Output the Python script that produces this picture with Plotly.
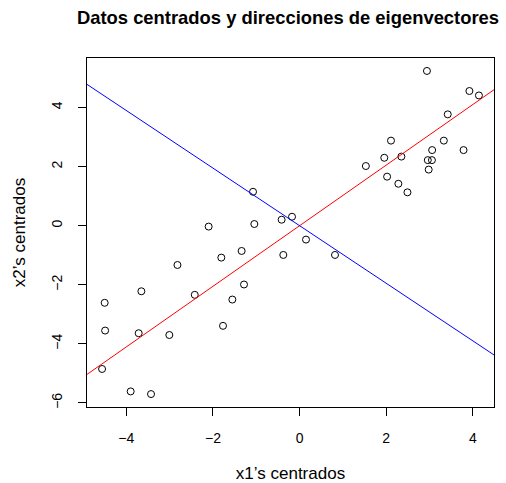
import plotly.graph_objects as go

x1_centered = [-1.075, -2.10, -1.045, -0.415, -0.175,
               2.94, 3.92, 4.14, 3.42, 2.11, 3.33, 3.06, 3.785, 1.955, 2.35,
               2.96, 3.055, 2.98, 1.53, 2.02, 2.28, 2.49, 0.148,
               -0.376, 0.817,
               -1.338, -1.807, -2.82, -3.653, -4.50, -2.42, -1.283, -1.553,
               -1.768, -4.49, -3.715, -3.007, -4.56, -3.90, -3.43]
x2_centered = [1.149, -0.03, 0.057, 0.203, 0.304,
               5.24, 4.56, 4.41, 3.77, 2.88, 2.88, 2.56, 2.56, 2.30, 2.34,
               2.22, 2.22, 1.90, 2.02, 1.66, 1.42, 1.13, -0.47,
               -0.99, -0.99,
               -0.855, -1.08, -1.33, -2.22, -2.61, -2.34, -1.99, -2.50,
               -3.39, -3.55, -3.64, -3.70, -4.85, -5.61, -5.70]

# eigenvector directions (columns)
eig1 = [0.698, 0.716]
eig2 = [-0.716, 0.698]

x_ticks = [-4, -2, 0, 2, 4]
y_ticks = [-6, -4, -2, 0, 2, 4]

def expand(vals):
    lo, hi = min(vals), max(vals)
    d = (hi - lo) * 0.04
    return [lo - d, hi + d]

xr = expand(x1_centered)
yr = expand(x2_centered)

fig = go.Figure()
fig.add_trace(go.Scatter(
    x=x1_centered, y=x2_centered, mode="markers",
    marker=dict(symbol="circle-open", size=7, color="black", line=dict(width=1, color="black")),
    showlegend=False, hoverinfo="skip"))

for vec, col in [(eig1, "red"), (eig2, "blue")]:
    slope = vec[1] / vec[0]
    xs = [-20, 20]
    fig.add_trace(go.Scatter(
        x=xs, y=[slope * v for v in xs], mode="lines",
        line=dict(color=col, width=1), showlegend=False, hoverinfo="skip"))

axis_common = dict(
    showgrid=False, zeroline=False, showline=True, linecolor="black", linewidth=1,
    mirror=True, ticks="outside", ticklen=8, tickwidth=1, tickcolor="black",
    tickfont=dict(size=14, color="black"), ticklabelstandoff=10, automargin=False,
)

fig.update_layout(
    width=506, height=483,
    margin=dict(l=87, r=12, t=58, b=76),
    paper_bgcolor="white", plot_bgcolor="white",
    font=dict(family="Liberation Sans, Arial, sans-serif", size=14, color="black"),
    title=dict(text="<b>Datos centrados y direcciones de eigenvectores</b>",
               x=288 / 506, xref="container", xanchor="center", y=1 - 18 / 483, yref="container",
               yanchor="middle", automargin=False,
               font=dict(size=18.4, color="black")),
    xaxis=dict(range=xr, tickvals=x_ticks, title=dict(text="x1’s centrados", standoff=31), **axis_common),
    yaxis=dict(range=yr, tickvals=y_ticks, tickangle=-90, title=dict(text="x2’s centrados", standoff=19), **axis_common),
)

fig.write_html("out.html")
